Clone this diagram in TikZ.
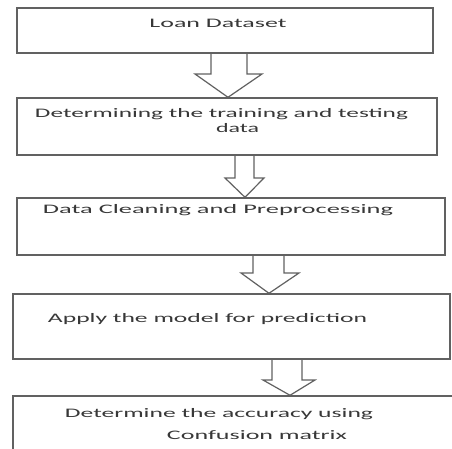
\documentclass[tikz,border=0pt]{standalone}
\usepackage{fontspec}
\setmainfont{Carlito}
\usepackage{graphicx}
\newcommand\fitw[2]{\resizebox{#1pt}{\height}{#2}}
\begin{document}
\begin{tikzpicture}[x=1pt,y=-1pt,
  box/.style={draw=black!62,line width=1.4pt,rectangle,inner sep=0pt,fill=none},
  lbl/.style={inner sep=0pt,anchor=base,text=black!78,font=\fontsize{13}{15}\selectfont},
  blk/.style={draw=black!62,line width=1.2pt,line join=miter}]
\useasboundingbox (0,0) rectangle (452,449);
\clip (0,0) rectangle (452,449);
\fill[white] (0,0) rectangle (452,449);
% boxes
\node[box,minimum width=416pt,minimum height=45pt] (b1) at (225,30.5) {};
\node[box,minimum width=420pt,minimum height=57pt] (b2) at (227,126.5) {};
\node[box,minimum width=428pt,minimum height=57pt] (b3) at (231,226.5) {};
\node[box,minimum width=437pt,minimum height=65pt] (b4) at (231.5,326.5) {};
\node[box,minimum width=453pt,minimum height=74pt] (b5) at (239.5,433) {};
% texts
\node[lbl] (t1) at (218,27.5) {\fitw{137}{Loan Dataset}};
\node[lbl] (t2a) at (221.5,117.5) {\fitw{373}{Determining the training and testing}};
\node[lbl] (t2b) at (237.5,132.5) {\fitw{43}{data}};
\node[lbl] (t3) at (218,213.5) {\fitw{350}{Data Cleaning and Preprocessing}};
\node[lbl] (t4) at (207.5,322.5) {\fitw{319}{Apply the model for prediction}};
\node[lbl] (t5a) at (219,417.5) {\fitw{308}{Determine the accuracy using}};
\node[lbl] (t5b) at (257,439.5) {\fitw{180}{Confusion matrix}};
% block arrows: shaft from box bottom, tip on next box top
\draw[blk] (211,0 |- b1.south) -- (211,74) -- (195,74) -- (228,0 |- b2.north)
  -- (262,74) -- (247,74) -- (247,0 |- b1.south);
\draw[blk] (235,0 |- b2.south) -- (235,178) -- (225,178) -- (245,0 |- b3.north)
  -- (264,178) -- (254,178) -- (254,0 |- b2.south);
\draw[blk] (253,0 |- b3.south) -- (253,273) -- (241,273) -- (269,0 |- b4.north)
  -- (299,273) -- (284,273) -- (284,0 |- b3.south);
\draw[blk] (272,0 |- b4.south) -- (272,380) -- (263,380) -- (290,0 |- b5.north)
  -- (315,380) -- (302,380) -- (302,0 |- b4.south);
\end{tikzpicture}
\end{document}
